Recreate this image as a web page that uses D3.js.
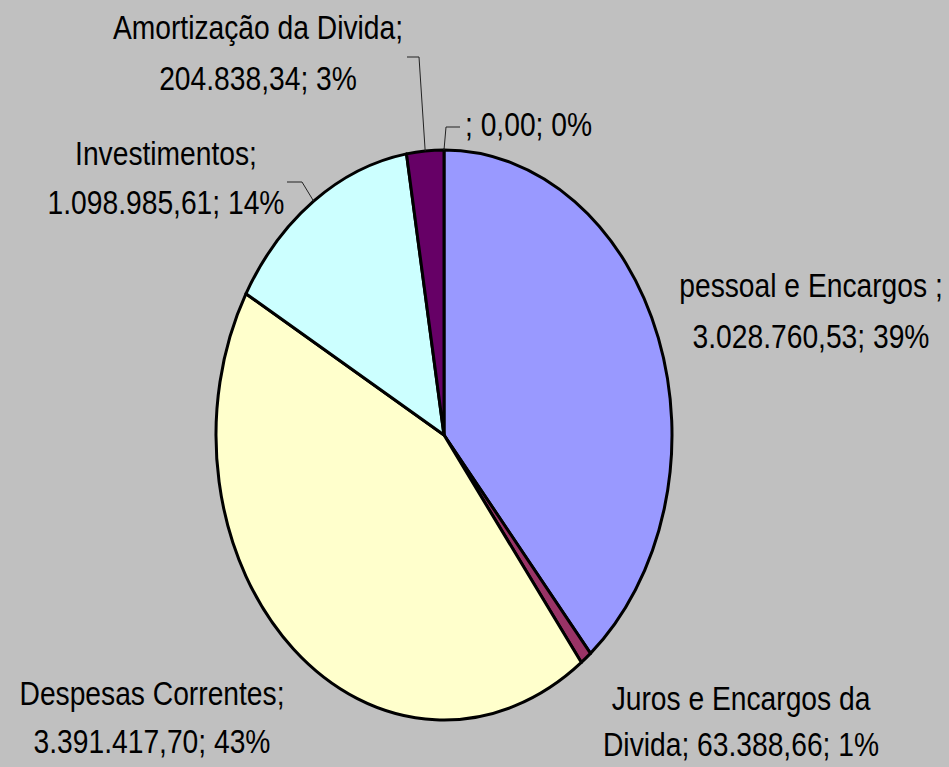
<!DOCTYPE html>
<html>
<head>
<meta charset="utf-8">
<script src="https://cdn.jsdelivr.net/npm/d3@7"></script>
<style>
  html, body { margin: 0; padding: 0; background: #C0C0C0; }
  svg { display: block; }
  text { font-family: "Liberation Sans Narrow", "Arial Narrow", "Liberation Sans", Arial, sans-serif; font-size: 34px; fill: #000; white-space: pre; }
</style>
</head>
<body>
<svg id="chart" width="949" height="767"></svg>
<script>
// ---- data ----
const categories = ["pessoal e Encargos ", "Juros e Encargos da Divida", "Despesas Correntes", "Investimentos", "Amortização da Divida", ""];
const values = [3028760.53, 63388.66, 3391417.70, 1098985.61, 204838.34, 0.00];
const percentLabels = ["39%", "1%", "43%", "14%", "3%", "0%"];
const colors = ["#9999FF", "#993366", "#FFFFCC", "#CCFFFF", "#660066", "#FFFFFF"];

// ---- layout ----
const W = 949, H = 767;
const cx = 444, cy = 435, rx = 228, ry = 285;
const narrow = 0.83; // horizontal compression to mimic a narrow face

const labelLayout = [
  { x: 811, y: 297, gap: 51, anchor: "middle", split: "cat" },
  { x: 741, y: 710, gap: 46, anchor: "middle", split: 4 },
  { x: 152, y: 705, gap: 48, anchor: "middle", split: "cat" },
  { x: 166, y: 165, gap: 49, anchor: "middle", split: "cat", leader: [[287, 182], [302, 182]] },
  { x: 258, y: 39, gap: 51, anchor: "middle", split: "cat", leader: [[407, 57], [419, 57]] },
  { x: 465, y: 136, gap: 0, anchor: "start", split: "none", leader: [[460, 127], [446, 127]] }
];

const loc = d3.formatLocale({ decimal: ",", thousands: ".", grouping: [3], currency: ["", ""] });
const fmt = loc.format(",.2f");

const svg = d3.select("#chart");
svg.append("rect").attr("width", W).attr("height", H).attr("fill", "#C0C0C0");

const pie = d3.pie().sort(null).value(d => d)(values);
const arc = d3.arc().innerRadius(0).outerRadius(ry);

const g = svg.append("g").attr("transform", `translate(${cx},${cy}) scale(${rx / ry},1)`);
g.selectAll("path")
  .data(pie.filter(d => d.value > 0))
  .join("path")
  .attr("d", arc)
  .attr("fill", (d) => colors[d.index])
  .attr("stroke", "#000")
  .attr("stroke-width", 3)
  .attr("stroke-linejoin", "round")
  .attr("vector-effect", "non-scaling-stroke");

function edgePoint(d) {
  const a = (d.startAngle + d.endAngle) / 2;
  return [cx + Math.sin(a) * rx, cy - Math.cos(a) * ry];
}

pie.forEach((d, i) => {
  const L = labelLayout[i];
  if (!L.leader) return;
  const pts = L.leader.concat([edgePoint(d)]);
  svg.append("path")
    .attr("d", d3.line()(pts))
    .attr("fill", "none")
    .attr("stroke", "#222")
    .attr("stroke-width", 1);
});

pie.forEach((d, i) => {
  const L = labelLayout[i];
  const cat = categories[i];
  const tail = `${fmt(values[i])}; ${percentLabels[i]}`;
  let lines;
  if (L.split === "cat") {
    lines = [cat + ";", tail];
  } else if (L.split === "none") {
    lines = [`${cat}; ${tail}`];
  } else {
    const full = `${cat}; ${tail}`.split(" ");
    lines = [full.slice(0, L.split).join(" "), full.slice(L.split).join(" ")];
  }
  const t = svg.append("text")
    .attr("text-anchor", L.anchor)
    .attr("transform", `translate(${L.x},${L.y}) scale(${narrow},1)`);
  lines.forEach((ln, k) => {
    t.append("tspan").attr("x", 0).attr("y", k * L.gap).text(ln);
  });
});
</script>
</body>
</html>
